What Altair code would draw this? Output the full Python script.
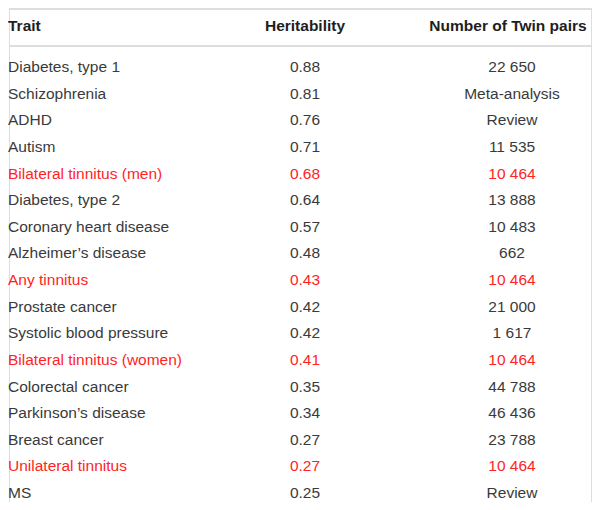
import altair as alt
import pandas as pd

traits = ["Diabetes, type 1", "Schizophrenia", "ADHD", "Autism",
          "Bilateral tinnitus (men)", "Diabetes, type 2", "Coronary heart disease",
          "Alzheimer\u2019s disease", "Any tinnitus", "Prostate cancer",
          "Systolic blood pressure", "Bilateral tinnitus (women)", "Colorectal cancer",
          "Parkinson\u2019s disease", "Breast cancer", "Unilateral tinnitus", "MS"]
heritability = ["0.88", "0.81", "0.76", "0.71", "0.68", "0.64", "0.57", "0.48",
                "0.43", "0.42", "0.42", "0.41", "0.35", "0.34", "0.27", "0.27", "0.25"]
twin_pairs = ["22 650", "Meta-analysis", "Review", "11 535", "10 464", "13 888",
              "10 483", "662", "10 464", "21 000", "1 617", "10 464", "44 788",
              "46 436", "23 788", "10 464", "Review"]
tinnitus = [False, False, False, False, True, False, False, False, True, False,
            False, True, False, False, False, True, False]
headers = ["Trait", "Heritability", "Number of Twin pairs"]

df = pd.DataFrame({
    "row": list(range(len(traits))),
    "trait": traits,
    "her": heritability,
    "n": twin_pairs,
    "hl": ["tinnitus" if t else "other" for t in tinnitus],
})

FONT = "Liberation Sans"
FS = 15.5
W, H = 584, 494

yenc = alt.Y("row:Q", scale=alt.Scale(domain=[0, 16], range=[59, 485]), axis=None)
color = alt.Color("hl:N", scale=alt.Scale(domain=["other", "tinnitus"],
                                          range=["#3a3a3a", "#ff2424"]), legend=None)

base = alt.Chart(df)
col1 = base.mark_text(align="left", baseline="middle", font=FONT, fontSize=FS).encode(
    x=alt.value(-1), y=yenc, text="trait:N", color=color)
col2 = base.mark_text(align="center", baseline="middle", font=FONT, fontSize=FS).encode(
    x=alt.value(296), y=yenc, text="her:N", color=color)
col3 = base.mark_text(align="center", baseline="middle", font=FONT, fontSize=FS).encode(
    x=alt.value(503), y=yenc, text="n:N", color=color)

hdf = pd.DataFrame({"h": headers})
hstyle = dict(baseline="middle", font=FONT, fontSize=FS, fontWeight="bold", color="#1e1e1e")
h1 = alt.Chart(hdf[hdf.h == headers[0]]).mark_text(align="left", **hstyle).encode(
    x=alt.value(-1), y=alt.value(18), text="h:N")
h2 = alt.Chart(hdf[hdf.h == headers[1]]).mark_text(align="center", **hstyle).encode(
    x=alt.value(296), y=alt.value(18), text="h:N")
h3 = alt.Chart(hdf[hdf.h == headers[2]]).mark_text(align="center", **hstyle).encode(
    x=alt.value(499), y=alt.value(18), text="h:N")

ldf = pd.DataFrame({"k": ["top", "head"]})
top_line = alt.Chart(ldf[ldf.k == "top"]).mark_rule(color="#dddddd", strokeWidth=2).encode(
    x=alt.value(0), x2=alt.value(W), y=alt.value(1))
head_line = alt.Chart(ldf[ldf.k == "head"]).mark_rule(color="#dddddd", strokeWidth=2).encode(
    x=alt.value(0), x2=alt.value(W), y=alt.value(38))

chart = alt.layer(top_line, head_line, h1, h2, h3, col1, col2, col3).properties(
    width=W, height=H, padding=0,
    autosize=alt.AutoSizeParams(type="fit", contains="padding"),
).configure_view(strokeWidth=0, stroke="transparent").configure(background="white")

chart.save("out.html", embed_options={"renderer": "svg", "actions": False})
